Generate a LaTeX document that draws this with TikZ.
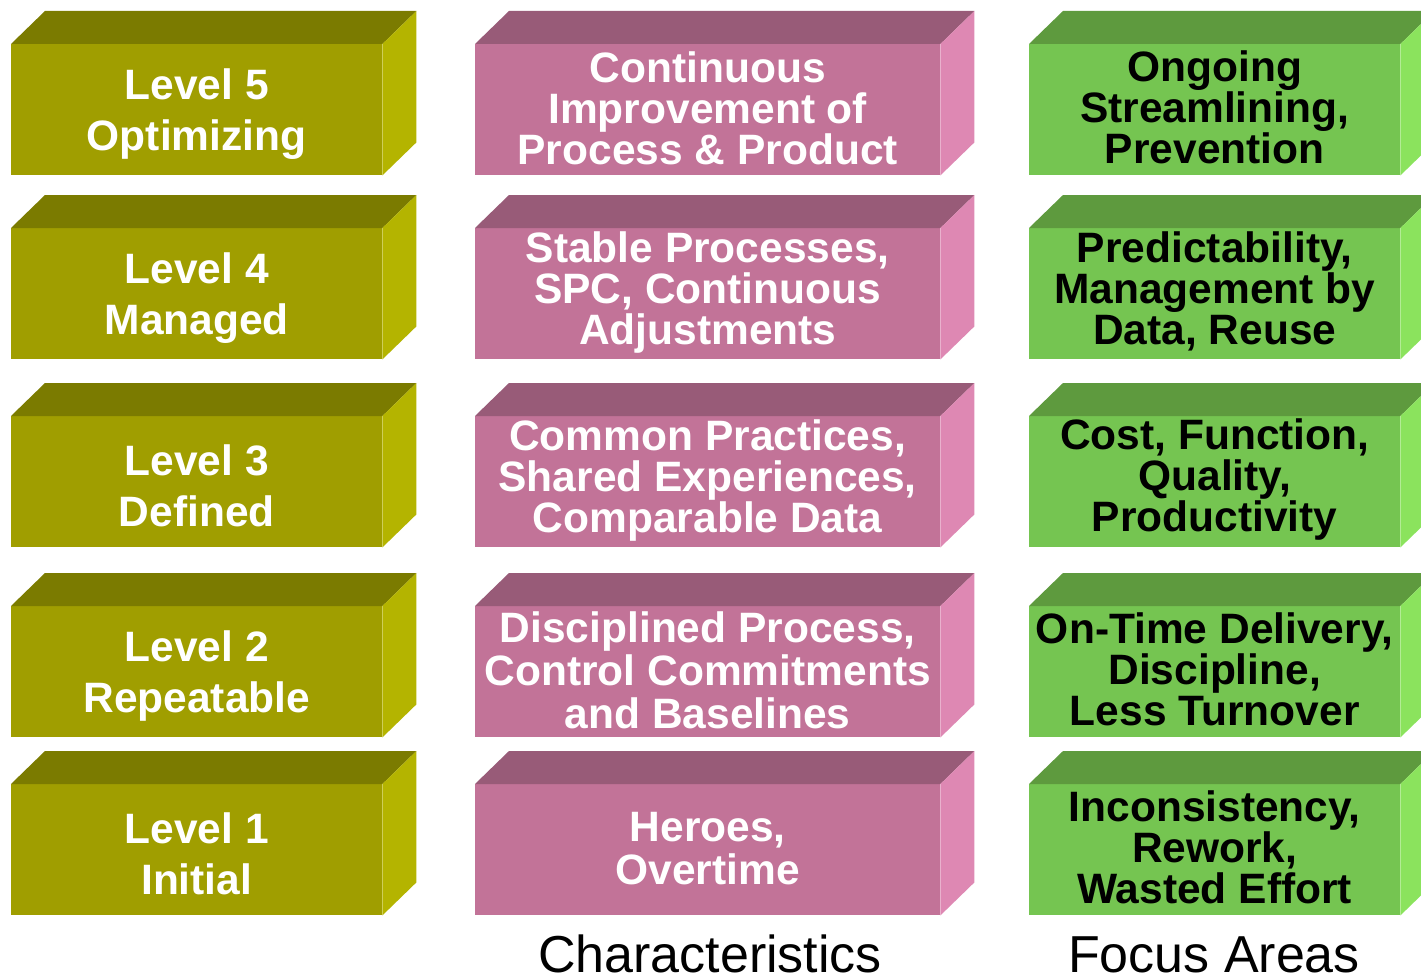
\documentclass[tikz,border=0pt]{standalone}
\usepackage{fontspec}
\setmainfont{Liberation Sans}
\definecolor{olFront}{HTML}{A09E00}
\definecolor{olTop}{HTML}{7B7B00}
\definecolor{olSide}{HTML}{B4B400}
\definecolor{pkFront}{HTML}{C27398}
\definecolor{pkTop}{HTML}{985B78}
\definecolor{pkSide}{HTML}{DE88B3}
\definecolor{grFront}{HTML}{75C551}
\definecolor{grTop}{HTML}{5E9A3E}
\definecolor{grSide}{HTML}{8BE35D}
\tikzset{
  face/.style={draw=none, inner sep=0pt, anchor=north west},
  olfront/.style={face, fill=olFront}, oltext/.style={text=white, align=center, inner sep=0pt, yshift=-4pt, font={\bfseries\fontsize{42.5}{51}\selectfont}},
  pkfront/.style={face, fill=pkFront}, pktext/.style={text=white, align=center, inner sep=0pt, yshift=1pt, font={\bfseries\fontsize{42.5}{41}\selectfont}},
  grfront/.style={face, fill=grFront}, grtext/.style={text=black, align=center, inner sep=0pt, yshift=2pt, font={\bfseries\fontsize{42.5}{41}\selectfont}},
  oltop/.style={fill=olTop}, olside/.style={fill=olSide},
  pktop/.style={fill=pkTop}, pkside/.style={fill=pkSide},
  grtop/.style={fill=grTop}, grside/.style={fill=grSide},
  caption/.style={font={\fontsize{52}{60}\selectfont}, text=black, anchor=base, inner sep=0pt}
}
% #1 name, #2 x0, #3 x1, #4 y front top, #5 y front bottom, #6 style prefix, #7 text
\newcommand\blockbox[7]{%
  \node[#6front, minimum width={(#3-#2)*1pt}, minimum height={(#5-#4)*1pt}] (#1) at (#2,#4) {};
  \fill[#6top] (#1.north west) -- ++(34,-33) -- ([shift={(34,-33)}]#1.north east) -- (#1.north east) -- cycle;
  \fill[#6side] (#1.north east) -- ++(34,-33) -- ([shift={(34,-33)}]#1.south east) -- (#1.south east) -- cycle;
  \node[#6text] (#1t) at (#1.center) {#7};
}
\begin{document}
\begin{tikzpicture}[x=1pt,y=-1pt]
\useasboundingbox (0,0) rectangle (1421,979);
\clip (0,0) rectangle (1421,979);
\fill[white] (0,0) rectangle (1421,979);
% column 1
\blockbox{l5}{11}{382}{44}{175}{ol}{Level 5\\Optimizing}
\blockbox{l4}{11}{382}{228}{359}{ol}{Level 4\\Managed}
\blockbox{l3}{11}{382}{416}{547}{ol}{Level 3\\Defined}
\blockbox{l2}{11}{382}{606}{737}{ol}{Level 2\\Repeatable}
\blockbox{l1}{11}{382}{784}{915}{ol}{Level 1\\Initial}
% column 2
\blockbox{c5}{475}{940}{44}{175}{pk}{Continuous\\Improvement of\\Process \& Product}
\blockbox{c4}{475}{940}{228}{359}{pk}{Stable Processes,\\SPC, Continuous\\Adjustments}
\blockbox{c3}{475}{940}{416}{547}{pk}{Common Practices,\\Shared Experiences,\\Comparable Data}
\blockbox{c2}{475}{940}{606}{737}{pk}{Disciplined Process,\\[2pt]Control Commitments\\[2pt]and Baselines}
\blockbox{c1}{475}{940}{784}{915}{pk}{Heroes,\\[2pt]Overtime}
% column 3
\blockbox{f5}{1029}{1400}{44}{175}{gr}{Ongoing\\Streamlining,\\Prevention}
\blockbox{f4}{1029}{1400}{228}{359}{gr}{Predictability,\\Management by\\Data, Reuse}
\blockbox{f3}{1029}{1400}{416}{547}{gr}{Cost, Function,\\Quality,\\Productivity}
\blockbox{f2}{1029}{1400}{606}{737}{gr}{On-Time Delivery,\\Discipline,\\Less Turnover}
\blockbox{f1}{1029}{1400}{784}{915}{gr}{Inconsistency,\\Rework,\\Wasted Effort}
% captions
\node[caption] (capC) at (710,972) {Characteristics};
\node[caption] (capF) at (1214,972) {Focus Areas};
\end{tikzpicture}
\end{document}
